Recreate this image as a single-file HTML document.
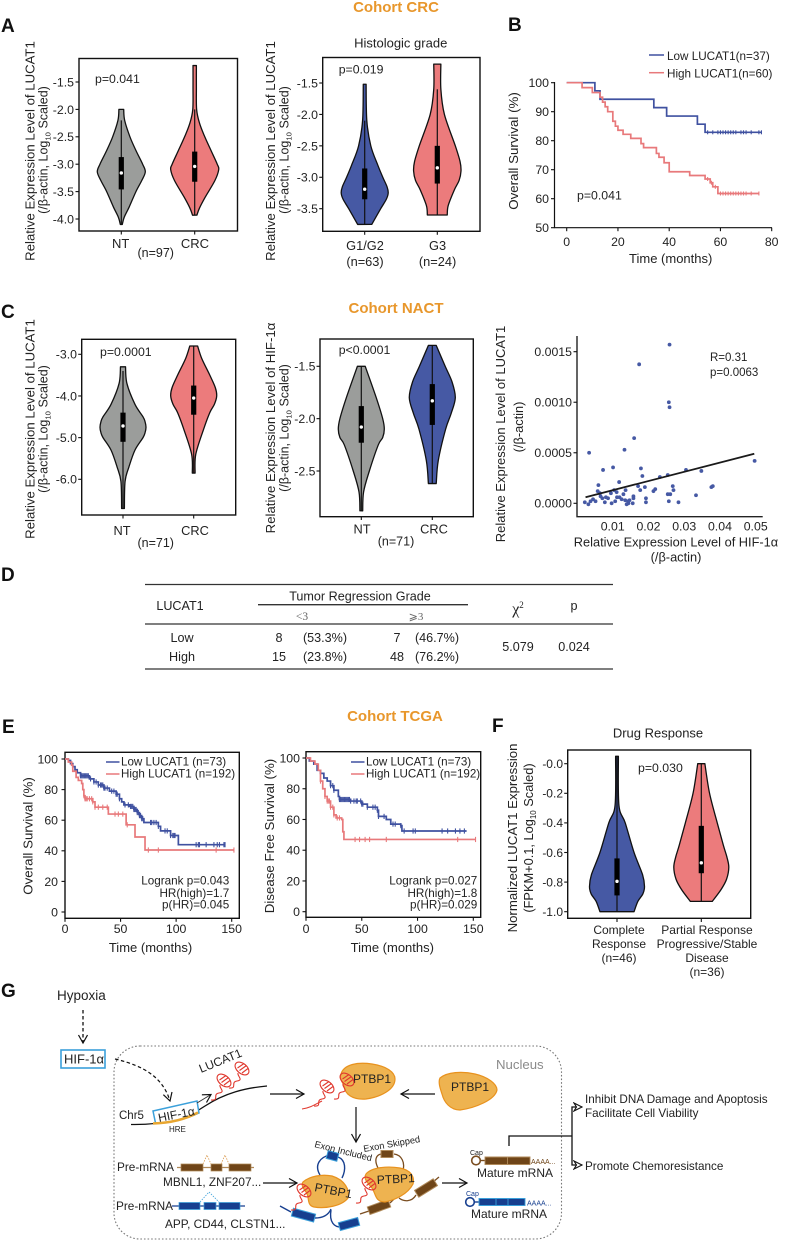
<!DOCTYPE html>
<html lang="en">
<head>
<meta charset="utf-8">
<title>LUCAT1 figure</title>
<style>
html,body{margin:0;padding:0;background:#fff;}
svg{display:block;font-family:"Liberation Sans",Arial,sans-serif;fill:#222;}
</style>
</head>
<body>
<svg id="fig" xmlns="http://www.w3.org/2000/svg" width="786" height="1241" viewBox="0 0 786 1241">
<defs>
<marker id="open" markerWidth="12" markerHeight="12" refX="9" refY="5" orient="auto" markerUnits="userSpaceOnUse"><path d="M1 1 L9 5 L1 9 L3.5 5 Z" fill="#fff" stroke="#111" stroke-width="1.1"/></marker>
<marker id="openV" markerWidth="12" markerHeight="12" refX="9" refY="5" orient="auto" markerUnits="userSpaceOnUse"><path d="M1 0.5 L9 5 L1 9.5" fill="none" stroke="#111" stroke-width="1.2"/></marker>
<g id="rna" fill="none" stroke="#e0382e" stroke-width="1.1">
<path d="M-11 13 C-2 14 -10 7 -3 6 C4 5 -3 1 -2 -2"/>
<ellipse cx="2" cy="-6.500" rx="8" ry="5" transform="rotate(40 2 -6.500)"/>
<path d="M-2.500 -7 L4 -11.500 M-0.500 -4.500 L6.500 -9.500 M2 -2 L8 -6.500"/>
</g>
</defs>

<g id="static" font-size="12.3">
<g font-weight="bold" fill="#111" font-size="19">
<text x="1" y="32">A</text>
<text x="508" y="31">B</text>
<text x="1" y="318">C</text>
<text x="1" y="581">D</text>
<text x="2" y="733">E</text>
<text x="492" y="732">F</text>
<text x="1" y="997">G</text>
</g>
<g font-weight="bold" fill="#e8972c" font-size="15" text-anchor="middle">
<text x="396" y="12">Cohort CRC</text>
<text x="396" y="313">Cohort NACT</text>
<text x="395" y="721">Cohort TCGA</text>
</g>

<g text-anchor="middle" font-size="12.6">
<path d="M145 584.500H613 M145 624H613 M145 669H613 M258 604.700H468" stroke="#333" stroke-width="1.3" fill="none"/>
<text x="360" y="600.500">Tumor Regression Grade</text>
<text x="180" y="610">LUCAT1</text>
<text x="302" y="620" font-family="'Liberation Serif',serif" fill="#666" font-size="11.5">&lt;3</text>
<text x="416" y="620" font-family="'Liberation Serif','DejaVu Sans',serif" fill="#666" font-size="11">⩾3</text>
<text x="518" y="614" font-family="'Liberation Serif',serif" font-size="16">χ<tspan font-size="9" dy="-6">2</tspan></text>
<text x="574" y="610">p</text>
<text x="182" y="642">Low</text>
<text x="182" y="661">High</text>
<text x="279" y="642">8</text>
<text x="325" y="642">(53.3%)</text>
<text x="397" y="642">7</text>
<text x="437" y="642">(46.7%)</text>
<text x="279" y="661">15</text>
<text x="325" y="661">(23.8%)</text>
<text x="397" y="661">48</text>
<text x="437" y="661">(76.2%)</text>
<text x="518" y="651">5.079</text>
<text x="574" y="651">0.024</text>
</g>
</g>

<g id="diagram" font-size="12">
<rect x="114" y="1046" width="447.500" height="193" rx="26" fill="none" stroke="#777" stroke-width="1.1" stroke-dasharray="1.6 2"/>
<text x="496" y="1069" font-size="13.2" fill="#8a8a8a">Nucleus</text>
<text x="57" y="1000" font-size="13.5">Hypoxia</text>
<path d="M83 1010V1043" stroke="#111" stroke-width="1.3" stroke-dasharray="3.5 2.5" fill="none" marker-end="url(#openV)"/>
<rect x="61" y="1050" width="44" height="18" fill="#fff" stroke="#3ba0da" stroke-width="1.6"/>
<text x="64" y="1063.500" font-size="13">HIF-1α</text>
<path d="M115 1059 C145 1066 163 1078 170 1101" stroke="#111" stroke-width="1.2" stroke-dasharray="3.5 2.5" fill="none" marker-end="url(#openV)"/>

<path d="M131 1124.500 C160 1125 185 1120 205 1106 C225 1093 245 1088 267 1086" stroke="#111" stroke-width="1.3" fill="none"/>
<text x="119" y="1119" font-size="11.5">Chr5</text>
<path d="M153 1111L197 1101L199 1113C186 1119 170 1123 155.500 1123Z" fill="#fff" stroke="#3ba0da" stroke-width="1.5"/>
<path d="M153 1123.500 C170 1123 186 1119 198 1112.500" stroke="#e8a630" stroke-width="2.600" fill="none"/>
<text transform="translate(159 1122) rotate(-11)" font-size="12">HIF-1α</text>
<text x="169" y="1132" font-size="8">HRE</text>
<path d="M197 1103L211 1094.500" stroke="#333" stroke-width="1" fill="none" marker-end="url(#openV)"/>
<text transform="translate(201 1073) rotate(-22)" font-size="12">LUCAT1</text>
<use href="#rna" x="222" y="1087"/>
<use href="#rna" x="240" y="1075"/>
<path d="M270 1094H304" stroke="#111" stroke-width="1.2" fill="none" marker-end="url(#openV)"/>
<path d="M341 1074C344 1064 358 1062 372 1064C386 1066 395 1072 395 1079C395 1090 380 1097 366 1099C352 1100 345 1094 344 1086C343 1082 339 1080 341 1074Z" fill="#eeb350" stroke="#e8921e" stroke-width="1.2"/>
<text x="353" y="1083" font-size="12">PTBP1</text>
<path d="M302 1109C310 1108 316 1104 322 1101" stroke="#e0382e" stroke-width="1" fill="none"/>
<use href="#rna" x="325" y="1093"/>
<use href="#rna" x="345" y="1086"/>
<path d="M440 1078C447 1072 462 1071 475 1074C488 1077 497 1084 497 1090C495 1100 475 1108 460 1110C450 1110 444 1102 442 1094C440 1088 438 1082 440 1078Z" fill="#eeb350" stroke="#e8921e" stroke-width="1.2"/>
<text x="451" y="1091" font-size="12">PTBP1</text>
<path d="M435 1094H401" stroke="#111" stroke-width="1.2" fill="none" marker-end="url(#openV)"/>
<path d="M356 1107V1142" stroke="#111" stroke-width="1.2" fill="none" marker-end="url(#openV)"/>

<text x="117" y="1171" font-size="11.8">Pre-mRNA</text>
<path d="M177 1167.500H254" stroke="#b08a5a" stroke-width="1.3"/>
<path d="M181 1164h22v7h-22z M211 1164h11v7h-11z M229 1164h22v7h-22z" fill="#6f4518" stroke="#b08a5a" stroke-width=".7"/>
<path d="M203 1164L207 1155L211 1164 M221 1164L225 1155L229 1164" fill="none" stroke="#d99a50" stroke-width=".8" stroke-dasharray="1.5 1.2"/>
<text x="163" y="1186" font-size="11.8">MBNL1, ZNF207...</text>
<path d="M263 1183H297" stroke="#111" stroke-width="1.2" fill="none" marker-end="url(#openV)"/>
<text x="116" y="1210" font-size="11.8">Pre-mRNA</text>
<path d="M172 1206H245" stroke="#173f8f" stroke-width="1.3"/>
<path d="M179 1202.500h21v7h-21z M204 1202.500h12v7h-12z M219 1202.500h21v7h-21z" fill="#173f8f" stroke="#3ba0da" stroke-width=".7"/>
<path d="M200 1202L209 1192L219 1202" fill="none" stroke="#3ba0da" stroke-width=".8" stroke-dasharray="1.5 1.2"/>
<text x="165" y="1228" font-size="11.8">APP, CD44, CLSTN1...</text>

<path d="M320 1175C314 1165 320 1157 330 1155 M338 1157C346 1160 346 1170 342 1178 M280 1206L291 1212 M315 1218C322 1218 328 1216 331 1209 M331 1210C329 1222 334 1228 343 1227" fill="none" stroke="#173f8f" stroke-width="1.4"/>
<g fill="#173f8f" stroke="#3ba0da" stroke-width="1">
<rect x="327" y="1152" width="11" height="8" transform="rotate(15 332.700 1156)"/>
<rect x="292" y="1211" width="23" height="8" transform="rotate(15 303 1215)"/>
<rect x="339" y="1220" width="20" height="8" transform="rotate(-15 349 1224)"/>
</g>
<path d="M303 1182C310 1176 322 1174 332 1176C345 1180 350 1190 348 1198C342 1206 325 1209 314 1207C306 1205 310 1197 306 1192C303 1188 301 1185 303 1182Z" fill="#eeb350" stroke="#e8921e" stroke-width="1.2"/>
<text transform="translate(314 1191) rotate(11)" font-size="12">PTBP1</text>
<use href="#rna" x="302" y="1197"/>
<text transform="translate(314 1147) rotate(14)" font-size="9.3">Exon Included</text>

<path d="M378 1168C374 1160 376 1155 381 1154 M394 1154C402 1155 405 1163 403 1170 M360 1214L369 1211 M390 1203L397 1196 M399 1198C404 1202 412 1202 416 1195 M433 1182L439 1177" fill="none" stroke="#7a4d20" stroke-width="1.3"/>
<g fill="#6f4518" stroke="#b08a5a" stroke-width="1">
<rect x="381" y="1150.500" width="12" height="7"/>
<rect x="415" y="1184" width="22" height="8" transform="rotate(-32 426 1188)"/>
<rect x="368" y="1203" width="22" height="8" transform="rotate(-20 379 1207)"/>
</g>
<path d="M366 1174C372 1167 388 1166 400 1168C410 1170 415 1176 413 1184C408 1194 395 1200 385 1202C375 1202 376 1194 372 1188C368 1183 363 1179 366 1174Z" fill="#eeb350" stroke="#e8921e" stroke-width="1.2"/>
<text transform="translate(377 1184) rotate(-3)" font-size="12">PTBP1</text>
<use href="#rna" x="367" y="1190"/>
<text transform="translate(364 1152) rotate(-10)" font-size="9.3">Exon Skipped</text>
<path d="M442 1183H467" stroke="#111" stroke-width="1.2" fill="none" marker-end="url(#openV)"/>

<text x="470" y="1155" font-size="7">Cap</text>
<circle cx="476" cy="1160.500" r="4.300" fill="#fff" stroke="#7a4d20" stroke-width="1.6"/>
<path d="M480 1160.500H485" stroke="#7a4d20" stroke-width="1.4"/>
<path d="M485 1157h22.500v7.500h-22.500z M507.500 1157h22.500v7.500h-22.500z" fill="#6f4518" stroke="#b08a5a" stroke-width=".9"/>
<text x="531" y="1164" font-size="7" fill="#6f4518">AAAA...</text>
<text x="477" y="1177" font-size="12">Mature mRNA</text>
<text x="466" y="1196" font-size="7" fill="#173f8f">Cap</text>
<circle cx="470" cy="1202" r="4.300" fill="#fff" stroke="#173f8f" stroke-width="1.6"/>
<path d="M474 1202H479" stroke="#173f8f" stroke-width="1.4"/>
<path d="M479 1198.500h17v7h-17z M496 1198.500h12v7h-12z M508 1198.500h17v7h-17z" fill="#173f8f" stroke="#3ba0da" stroke-width=".9"/>
<text x="527" y="1205.500" font-size="7" fill="#173f8f">AAAA...</text>
<text x="471" y="1218" font-size="12">Mature mRNA</text>

<path d="M509 1146V1136H572" stroke="#111" stroke-width="1.3" fill="none"/>
<path d="M572 1136V1107H582" stroke="#111" stroke-width="1.3" fill="none" marker-end="url(#open)"/>
<path d="M572 1136V1165H582" stroke="#111" stroke-width="1.3" fill="none" marker-end="url(#open)"/>
<text x="585" y="1103" font-size="11.7">Inhibit DNA Damage and Apoptosis</text>
<text x="585" y="1117" font-size="11.7">Facilitate Cell Viability</text>
<text x="585" y="1170" font-size="11.7">Promote Chemoresistance</text>
</g>
</svg>

<script>
/* ---------- panel A, left: NT vs CRC ---------- */
const a1Categories = ['NT', 'CRC'];
const a1Ticks = [-1.5, -2.0, -2.5, -3.0, -3.5, -4.0];
const a1NtValues = [-2.0, -2.2, -2.5, -2.75, -3.0, -3.14, -3.3, -3.5, -3.78, -3.97, -4.1];
const a1NtDensity = [0.1, 0.14, 0.36, 0.61, 0.89, 1, 0.85, 0.61, 0.33, 0.12, 0.04];
const a1CrcValues = [-1.2, -1.6, -2.0, -2.25, -2.5, -2.75, -3.0, -3.1, -3.3, -3.6, -3.8, -3.93];
const a1CrcDensity = [0.07, 0.07, 0.08, 0.2, 0.42, 0.68, 0.94, 1, 0.84, 0.44, 0.2, 0.09];
const a1NtBox = [-3.46, -3.16, -2.87];
const a1CrcBox = [-3.32, -3.04, -2.77];
const a1NtWhisker = [-4.1, -2.2];
const a1CrcWhisker = [-3.93, -2.0];

/* ---------- panel A, right: histologic grade ---------- */
const a2Categories = ['G1/G2', 'G3'];
const a2Ticks = [-1.5, -2.0, -2.5, -3.0, -3.5];
const a2LowValues = [-1.52, -2.1, -2.5, -2.8, -3.0, -3.15, -3.25, -3.35, -3.5, -3.75];
const a2LowDensity = [0.06, 0.09, 0.26, 0.55, 0.77, 0.95, 1, 0.92, 0.68, 0.3];
const a2HighValues = [-1.2, -1.6, -2.0, -2.5, -2.75, -2.9, -3.05, -3.2, -3.45, -3.6];
const a2HighDensity = [0.15, 0.15, 0.3, 0.76, 0.96, 1, 0.92, 0.72, 0.46, 0.42];
const a2LowBox = [-3.35, -3.19, -2.86];
const a2HighBox = [-3.1, -2.85, -2.5];
const a2LowWhisker = [-3.75, -2.1];
const a2HighWhisker = [-3.6, -1.6];

/* ---------- panel B: survival ---------- */
const bTicksX = [0, 20, 40, 60, 80];
const bTicksY = [50, 60, 70, 80, 90, 100];
const bLowTimes = [0, 11, 13, 34, 39, 51, 54, 76];
const bLowSurvival = [100, 97.2, 94.3, 91.4, 88.5, 85.7, 82.9, 82.9];
const bHighTimes = [0, 6, 10, 13, 14, 15, 16, 18, 19, 20, 22, 25, 29, 30, 35, 36, 38, 40, 48, 54, 56, 57, 59, 75];
const bHighSurvival = [100, 98.3, 96.6, 95, 93.3, 91.7, 90, 86.7, 85, 83.6, 82.2, 80.8, 79, 77.6, 75.6, 74.3, 72.4, 69.3, 68, 66.8, 65.5, 64.1, 61.8, 61.8];
const bLowCensor = [55, 57, 59, 60, 61, 62, 63, 64, 65, 66, 68, 69, 70, 72, 75, 76];
const bHighCensor = [55, 56.5, 58, 60, 61, 62, 63, 64, 65, 66, 67, 68, 69, 70, 72, 75];

/* ---------- panel C, left: LUCAT1 ---------- */
const c1Categories = ['NT', 'CRC'];
const c1Ticks = [-3.0, -4.0, -5.0, -6.0];
const c1NtValues = [-3.3, -3.7, -4.2, -4.5, -4.62, -4.75, -4.88, -5.0, -5.3, -5.7, -6.05, -6.7];
const c1NtDensity = [0.11, 0.17, 0.52, 0.87, 0.96, 1, 0.96, 0.87, 0.52, 0.26, 0.09, 0.06];
const c1CrcValues = [-2.8, -3.1, -3.5, -3.8, -4.0, -4.2, -4.4, -4.8, -5.4, -5.85];
const c1CrcDensity = [0.17, 0.35, 0.7, 0.94, 1, 0.9, 0.7, 0.43, 0.09, 0.06];
const c1NtBox = [-5.1, -4.72, -4.4];
const c1CrcBox = [-4.45, -4.05, -3.75];
const c1NtWhisker = [-6.7, -3.4];
const c1CrcWhisker = [-5.85, -2.8];

/* ---------- panel C, middle: HIF-1a ---------- */
const c2Categories = ['NT', 'CRC'];
const c2Ticks = [-1.5, -2.0, -2.5];
const c2NtValues = [-1.5, -1.8, -2.0, -2.1, -2.18, -2.25, -2.5, -2.7, -2.88];
const c2NtDensity = [0.17, 0.65, 0.93, 1, 0.93, 0.74, 0.35, 0.1, 0.06];
const c2CrcValues = [-1.3, -1.5, -1.65, -1.8, -1.95, -2.1, -2.4, -2.62];
const c2CrcDensity = [0.17, 0.56, 0.86, 1, 0.82, 0.58, 0.26, 0.17];
const c2NtBox = [-2.23, -2.08, -1.88];
const c2CrcBox = [-2.06, -1.83, -1.67];
const c2NtWhisker = [-2.88, -1.5];
const c2CrcWhisker = [-2.62, -1.3];

/* ---------- panel C, right: scatter ---------- */
const scTicksX = [0.01, 0.02, 0.03, 0.04, 0.05];
const scTicksY = [0, 0.0005, 0.001, 0.0015];
const scHif = [.0259,.0174,.0257,.0259,.016,.0133,.0034,.0101,.0073,.0179,.0183,.0118,.0232,.0254,.0305,.0348,.0497,.006,.0171,.019,.0268,.027,.0219,.0214,.0376,.038,.0333,.0254,.0261,.0257,.0284,.0193,.0193,.0177,.0158,.0158,.0136,.013,.0156,.0144,.0139,.0143,.0147,.0135,.0125,.0119,.0111,.0104,.0095,.0087,.0107,.0097,.0078,.0081,.0071,.0064,.0058,.0052,.0045,.0038,.0032,.0022,.0066,.0112];
const scLucat = [.00157,.001375,.0010,.00095,.000645,.00053,.0005,.000355,.00033,.000345,.00027,.00021,.00026,.00028,.00033,.00032,.00042,.00018,.00017,.00016,.00017,.00013,.00014,.00012,.00016,.00017,.00008,.00009,.00009,.00002,.00001,.00005,.00001,.00013,.00007,.00005,.00013,.00009,0,0,-.00001,.00002,.00003,.00003,.00004,.00006,.00011,.00013,.0001,.00005,.00002,0,.00001,.00006,.00005,.0001,.00012,.00002,.00004,.00002,-.00001,.00001,.00007,.00006];
const scTrendX = [0.0024, 0.0496];
const scTrendY = [0.00006, 0.00049];

/* ---------- panel E, overall survival ---------- */
const eTicksX = [0, 50, 100, 150];
const eTicksY = [0, 20, 40, 60, 80, 100];
const e1LowTimes = [0, 3, 5, 7, 9, 11, 14, 22, 26, 30, 35, 40, 46, 49, 51, 53, 58, 62, 65, 67, 69, 71, 84, 86, 95, 102, 144];
const e1LowSurvival = [100, 99, 97, 95, 93, 91, 89, 87, 85, 83, 81, 79, 77, 74, 72, 70, 69, 67, 65, 63, 61, 58.5, 56, 53, 50, 44, 44];
const e1HighTimes = [0, 3, 6, 7, 10, 12, 15, 16, 17, 18, 25, 27, 39, 55, 63, 72, 152];
const e1HighSurvival = [100, 98, 96, 92, 88, 86, 84, 80, 76, 74, 72, 68.5, 64, 57, 49, 40.5, 40.5];
const e1LowCensor = [14, 15, 16, 17, 18, 19, 20, 21, 23, 26, 28, 30, 32, 33, 34, 35, 36, 38, 42, 44, 46, 47, 49, 54, 57, 59, 60, 61, 62, 63, 64, 65, 66, 67, 68, 69, 70, 77, 78, 80, 82, 84, 90, 92, 95, 97, 98, 99, 118, 120, 121, 127, 134, 137, 139, 143, 144];
const e1HighCensor = [17, 18, 19, 20, 22, 24, 25, 27, 30, 34, 38, 45, 48, 52, 56, 75, 84, 136, 152];

/* ---------- panel E, disease free survival ---------- */
const e2LowTimes = [0, 3, 7, 10, 13, 16, 19, 22, 25, 29, 30, 40, 50, 55, 64, 65, 72, 76, 85, 86, 144];
const e2LowSurvival = [100, 98, 96, 92, 90, 87, 85, 82, 79, 75, 73, 72, 70, 68, 66, 62, 60, 57, 56, 52.5, 52.5];
const e2HighTimes = [0, 4, 8, 11, 13, 15, 17, 19, 22, 25, 27, 32, 33, 34, 152];
const e2HighSurvival = [100, 98, 96, 92, 85, 80, 75, 72, 68, 63, 61, 60, 52, 47, 47];
const e2LowCensor = [22, 24, 25, 30, 31, 32, 33, 34, 35, 36, 37, 38, 39, 40, 43, 45, 46, 49, 50, 51, 55, 60, 62, 64, 65, 70, 78, 80, 85, 88, 96, 98, 122, 127, 134, 138, 142];
const e2HighCensor = [13, 17, 19, 20, 21, 22, 24, 25, 28, 30, 44, 48, 53, 57, 72, 136, 152];

/* ---------- panel F: drug response ---------- */
const fTicks = [0, -0.2, -0.4, -0.6, -0.8, -1.0];
const fCompleteValues = [0.05, -0.28, -0.4, -0.6, -0.75, -0.83, -0.88, -0.93, -1.0];
const fCompleteDensity = [0.05, 0.07, 0.3, 0.62, 0.93, 1, 0.94, 0.76, 0.62];
const fPartialValues = [0, -0.2, -0.4, -0.55, -0.63, -0.7, -0.78, -0.85, -0.93];
const fPartialDensity = [0.13, 0.3, 0.58, 0.8, 0.93, 1, 0.92, 0.72, 0.4];
const fCompleteBox = [-0.89, -0.795, -0.64];
const fPartialBox = [-0.74, -0.67, -0.42];
const fCompleteWhisker = [-1.0, 0.05];
const fPartialWhisker = [-0.93, 0];

const COLORS = { gray: '#9b9d9b', red: '#ec7b7c', blue: '#4659a4', kmLow: '#3f51a0', kmHigh: '#e8797b' };
const NS = 'http://www.w3.org/2000/svg';
const fig = document.getElementById('fig');

function mk(tag, attrs, name, parent) {
  const el = document.createElementNS(NS, tag);
  for (const k in attrs) el.setAttribute(k, attrs[k]);
  
  
  (parent || fig).appendChild(el);
  return el;
}
function label(x, y, str, size, anchor, name, parent) {
  const el = mk('text', { x: x, y: y, 'font-size': size, 'text-anchor': anchor || 'start' }, name, parent);
  el.textContent = str;
  return el;
}
function vlabel(x, cy, parts, size, name, parent) {
  const el = mk('text', { 'font-size': size, 'text-anchor': 'middle', transform: 'translate(' + x + ' ' + cy + ') rotate(-90)' }, name, parent);
  parts.forEach(function (p) {
    const t = document.createElementNS(NS, 'tspan');
    if (p.sub) { t.setAttribute('font-size', size * 0.62); t.setAttribute('dy', 3); }
    if (p.after) { t.setAttribute('dy', -3); }
    t.textContent = p.text;
    el.appendChild(t);
  });
  return el;
}
function linear(d0, p0, d1, p1) {
  return function (v) { return p0 + (v - d0) * (p1 - p0) / (d1 - d0); };
}
function fmt(v) { return v.toFixed(1); }

function violinPath(cx, y, values, density, maxHalf) {
  const pts = values.map(function (v, i) { return [density[i] * maxHalf, y(v)]; });
  function spline(P) {
    let d = '';
    for (let i = 0; i < P.length - 1; i++) {
      const p0 = P[Math.max(i - 1, 0)], p1 = P[i], p2 = P[i + 1], p3 = P[Math.min(i + 2, P.length - 1)];
      const c1 = [p1[0] + (p2[0] - p0[0]) / 6, p1[1] + (p2[1] - p0[1]) / 6];
      const c2 = [p2[0] - (p3[0] - p1[0]) / 6, p2[1] - (p3[1] - p1[1]) / 6];
      d += 'C' + c1[0].toFixed(2) + ' ' + c1[1].toFixed(2) + ' ' + c2[0].toFixed(2) + ' ' + c2[1].toFixed(2) + ' ' + p2[0].toFixed(2) + ' ' + p2[1].toFixed(2);
    }
    return d;
  }
  const right = pts.map(function (p) { return [cx + p[0], p[1]]; });
  const left = pts.slice().reverse().map(function (p) { return [cx - p[0], p[1]]; });
  return 'M' + right[0][0] + ' ' + right[0][1] + spline(right) + 'L' + left[0][0] + ' ' + left[0][1] + spline(left) + 'Z';
}

function violin(group, key, cx, y, values, density, box, whisker, color, maxHalf) {
  mk('path', { d: violinPath(cx, y, values, density, maxHalf), fill: color, stroke: '#111', 'stroke-width': 1.3, 'stroke-linejoin': 'round' }, key + '-violin', group);
  mk('line', { x1: cx, x2: cx, y1: y(whisker[0]), y2: y(whisker[1]), stroke: '#111', 'stroke-width': 1.2 }, key + '-whisker', group);
  mk('rect', { x: cx - 2.6, width: 5.2, y: y(box[2]), height: y(box[0]) - y(box[2]), fill: '#000' }, key + '-box', group);
  mk('circle', { cx: cx, cy: y(box[1]), r: 1.7, fill: '#fff' }, key + '-median', group);
}

function frame(group, x0, y0, x1, y1, name) {
  mk('rect', { x: x0, y: y0, width: x1 - x0, height: y1 - y0, fill: '#fff', stroke: '#111', 'stroke-width': 1.4 }, name, group);
}
function yTicks(group, ticks, y, axisX, labelX, format, size) {
  ticks.forEach(function (t) {
    const line = mk('line', { x1: axisX - 3.5, x2: axisX, y1: y(t), y2: y(t), stroke: '#111', 'stroke-width': 1.1 }, 'y-tick', group);
    label(labelX, y(t) + size * 0.36, format(t), size, 'end', 'y-tick-label', group);
    line.setAttribute('data-value', t);
  });
}
function xTicks(group, ticks, x, axisY, labelY, format, size) {
  ticks.forEach(function (t) {
    mk('line', { x1: x(t), x2: x(t), y1: axisY, y2: axisY + 3.5, stroke: '#111', 'stroke-width': 1.1 }, 'x-tick', group);
    label(x(t), labelY, format(t), size, 'middle', 'x-tick-label', group);
  });
}
function stepPath(times, surv, x, y) {
  let d = 'M' + x(times[0]) + ' ' + y(surv[0]);
  for (let i = 1; i < times.length; i++) d += 'H' + x(times[i]).toFixed(2) + 'V' + y(surv[i]).toFixed(2);
  return d;
}
function stepValue(times, surv, t) {
  let v = surv[0];
  for (let i = 0; i < times.length; i++) if (times[i] <= t) v = surv[i];
  return v;
}
function kmSeries(group, key, times, surv, censor, x, y, color, tickH) {
  mk('path', { d: stepPath(times, surv, x, y), fill: 'none', stroke: color, 'stroke-width': 1.7 }, key + '-curve', group);
  censor.forEach(function (t) {
    const yy = y(stepValue(times, surv, t));
    mk('line', { x1: x(t), x2: x(t), y1: yy - tickH, y2: yy + tickH, stroke: color, 'stroke-width': 1.1 }, key + '-censor-tick', group);
  });
}

/* A1 */
(function () {
  const g = mk('g', {}, 'violin-chart-cohort-crc', fig);
  const y = linear(-1.5, 82, -4.0, 219);
  frame(g, 79, 58.5, 237.5, 231, 'plot-frame');
  yTicks(g, a1Ticks, y, 79, 74, fmt, 12.3);
  violin(g, 'nt', 121.3, y, a1NtValues, a1NtDensity, a1NtBox, a1NtWhisker, COLORS.gray, 24);
  violin(g, 'crc', 194.7, y, a1CrcValues, a1CrcDensity, a1CrcBox, a1CrcWhisker, COLORS.red, 24);
  [121.3, 194.7].forEach(function (cx) { mk('line', { x1: cx, x2: cx, y1: 231, y2: 234.5, stroke: '#111', 'stroke-width': 1.1 }, 'x-tick', g); });
  label(120.7, 248, a1Categories[0], 13, 'middle', 'x-label-nt', g);
  label(195, 248, a1Categories[1], 13, 'middle', 'x-label-crc', g);
  label(155.7, 257, '(n=97)', 12.5, 'middle', 'sample-size', g);
  label(95, 83, 'p=0.041', 12.3, 'start', 'p-value', g);
  vlabel(34.5, 151, [{ text: 'Relative Expression Level of LUCAT1' }], 13.2, 'y-axis-title', g);
  vlabel(47.5, 150, [{ text: '(/β-actin, Log' }, { text: '10', sub: true }, { text: ' Scaled)', after: true }], 12.5, 'y-axis-subtitle', g);
})();

/* A2 */
(function () {
  const g = mk('g', {}, 'violin-chart-histologic-grade', fig);
  const y = linear(-1.5, 83, -3.5, 208.7);
  frame(g, 322.7, 57.5, 480, 231.3, 'plot-frame');
  yTicks(g, a2Ticks, y, 322.7, 318, fmt, 12.3);
  violin(g, 'g1-g2', 364.7, y, a2LowValues, a2LowDensity, a2LowBox, a2LowWhisker, COLORS.blue, 23.5);
  violin(g, 'g3', 437.3, y, a2HighValues, a2HighDensity, a2HighBox, a2HighWhisker, COLORS.red, 23.7);
  [364.7, 437.3].forEach(function (cx) { mk('line', { x1: cx, x2: cx, y1: 231.3, y2: 234.8, stroke: '#111', 'stroke-width': 1.1 }, 'x-tick', g); });
  label(365, 250, a2Categories[0], 12.8, 'middle', 'x-label-g1-g2', g);
  label(437.6, 250, a2Categories[1], 12.8, 'middle', 'x-label-g3', g);
  label(365, 266, '(n=63)', 12.8, 'middle', 'sample-size-g1-g2', g);
  label(437.6, 266, '(n=24)', 12.8, 'middle', 'sample-size-g3', g);
  label(400.7, 47.5, 'Histologic grade', 13, 'middle', 'chart-title', g);
  label(338.7, 73.5, 'p=0.019', 12.3, 'start', 'p-value', g);
  vlabel(275, 151, [{ text: 'Relative Expression Level of LUCAT1' }], 13.2, 'y-axis-title', g);
  vlabel(288.5, 150, [{ text: '(/β-actin, Log' }, { text: '10', sub: true }, { text: ' Scaled)', after: true }], 12.5, 'y-axis-subtitle', g);
})();

/* B */
(function () {
  const g = mk('g', {}, 'survival-chart-cohort-crc', fig);
  const x = linear(0, 566.7, 80, 771.7);
  const y = linear(100, 82.7, 50, 227.7);
  mk('path', { d: 'M554.5 82V227.7H772', fill: 'none', stroke: '#111', 'stroke-width': 1.2 }, 'axes', g);
  yTicks(g, bTicksY, y, 554.5, 549, String, 12.3);
  xTicks(g, bTicksX, x, 227.7, 246, String, 12.3);
  kmSeries(g, 'low-lucat1', bLowTimes, bLowSurvival, bLowCensor, x, y, COLORS.kmLow, 2);
  kmSeries(g, 'high-lucat1', bHighTimes, bHighSurvival, bHighCensor, x, y, COLORS.kmHigh, 2);
  mk('line', { x1: 649, x2: 664, y1: 55, y2: 55, stroke: COLORS.kmLow, 'stroke-width': 1.5 }, 'legend-line-low', g);
  mk('line', { x1: 649, x2: 664, y1: 72.7, y2: 72.7, stroke: COLORS.kmHigh, 'stroke-width': 1.5 }, 'legend-line-high', g);
  label(667, 60, 'Low LUCAT1(n=37)', 11.7, 'start', 'legend-entry-low', g);
  label(667, 77.5, 'High LUCAT1(n=60)', 11.7, 'start', 'legend-entry-high', g);
  label(577, 199.5, 'p=0.041', 12.3, 'start', 'p-value', g);
  label(670.7, 263, 'Time (months)', 13, 'middle', 'x-axis-title', g);
  vlabel(518, 151, [{ text: 'Overall Survival (%)' }], 13.3, 'y-axis-title', g);
})();

/* C1 */
(function () {
  const g = mk('g', {}, 'violin-chart-nact-lucat1', fig);
  const y = linear(-3.0, 354.3, -6.0, 479.3);
  frame(g, 81.7, 339.3, 235.7, 515, 'plot-frame');
  yTicks(g, c1Ticks, y, 81.7, 77, fmt, 12.3);
  violin(g, 'nt', 123, y, c1NtValues, c1NtDensity, c1NtBox, c1NtWhisker, COLORS.gray, 23);
  violin(g, 'crc', 193.7, y, c1CrcValues, c1CrcDensity, c1CrcBox, c1CrcWhisker, COLORS.red, 23);
  [123, 193.7].forEach(function (cx) { mk('line', { x1: cx, x2: cx, y1: 515, y2: 518.5, stroke: '#111', 'stroke-width': 1.1 }, 'x-tick', g); });
  label(122, 535, c1Categories[0], 12.8, 'middle', 'x-label-nt', g);
  label(195, 535, c1Categories[1], 12.8, 'middle', 'x-label-crc', g);
  label(155.7, 547, '(n=71)', 12.5, 'middle', 'sample-size', g);
  label(100, 356, 'p=0.0001', 12.3, 'start', 'p-value', g);
  vlabel(34.5, 429, [{ text: 'Relative Expression Level of LUCAT1' }], 13.2, 'y-axis-title', g);
  vlabel(47.5, 429, [{ text: '(/β-actin, Log' }, { text: '10', sub: true }, { text: ' Scaled)', after: true }], 12.5, 'y-axis-subtitle', g);
})();

/* C2 */
(function () {
  const g = mk('g', {}, 'violin-chart-nact-hif1a', fig);
  const y = linear(-1.5, 366.3, -2.5, 471);
  frame(g, 320, 339, 473.3, 516.7, 'plot-frame');
  yTicks(g, c2Ticks, y, 320, 315.5, fmt, 12.3);
  violin(g, 'nt', 361.3, y, c2NtValues, c2NtDensity, c2NtBox, c2NtWhisker, COLORS.gray, 23);
  violin(g, 'crc', 432.3, y, c2CrcValues, c2CrcDensity, c2CrcBox, c2CrcWhisker, COLORS.blue, 23);
  [361.3, 432.3].forEach(function (cx) { mk('line', { x1: cx, x2: cx, y1: 516.7, y2: 520, stroke: '#111', 'stroke-width': 1.1 }, 'x-tick', g); });
  label(362, 533.5, c2Categories[0], 12.8, 'middle', 'x-label-nt', g);
  label(434, 533.5, c2Categories[1], 12.8, 'middle', 'x-label-crc', g);
  label(396, 545.5, '(n=71)', 12.5, 'middle', 'sample-size', g);
  label(338.7, 354, 'p<0.0001', 12.3, 'start', 'p-value', g);
  vlabel(275, 428, [{ text: 'Relative Expression Level of HIF-1α' }], 13.2, 'y-axis-title', g);
  vlabel(288.5, 428, [{ text: '(/β-actin, Log' }, { text: '10', sub: true }, { text: ' Scaled)', after: true }], 12.5, 'y-axis-subtitle', g);
})();

/* Scatter */
(function () {
  const g = mk('g', {}, 'scatter-chart-lucat1-hif1a', fig);
  const x = linear(0.01, 612.7, 0.05, 755.7);
  const y = linear(0, 503.3, 0.0015, 351.7);
  mk('path', { d: 'M577 336V516.7H762.7', fill: 'none', stroke: '#222', 'stroke-width': 1.4 }, 'axes', g);
  scHif.forEach(function (v, i) {
    mk('circle', { cx: x(v), cy: y(scLucat[i]), r: 1.9, fill: '#4659a4' }, 'scatter-point', g);
  });
  mk('line', { x1: x(scTrendX[0]), x2: x(scTrendX[1]), y1: y(scTrendY[0]), y2: y(scTrendY[1]), stroke: '#1a1a1a', 'stroke-width': 1.8 }, 'trend-line', g);
  yTicks(g, scTicksY, y, 577, 572, function (t) { return t.toFixed(4); }, 12.3);
  scTicksX.forEach(function (t) { label(x(t), 530.7, t.toFixed(2), 12.3, 'middle', 'x-tick-label', g); });
  label(710, 361, 'R=0.31', 11.5, 'start', 'correlation-r', g);
  label(710, 376, 'p=0.0063', 11.5, 'start', 'correlation-p', g);
  label(676, 546.7, 'Relative Expression Level of HIF-1α', 12.8, 'middle', 'x-axis-title', g);
  label(676, 561.7, '(/β-actin)', 12.8, 'middle', 'x-axis-subtitle', g);
  vlabel(505, 434, [{ text: 'Relative Expression Level of LUCAT1' }], 13, 'y-axis-title', g);
  vlabel(523, 427, [{ text: '(/β-actin)' }], 12.8, 'y-axis-subtitle', g);
})();

/* E charts */
function kmPanel(name, xs, ys, box, labelRight, lowT, lowS, lowC, highT, highS, highC, legendX, stats, statX, title, titleX, timeX) {
  const g = mk('g', {}, name, fig);
  const x = linear(0, xs[0], 150, xs[1]);
  const y = linear(100, ys[0], 0, ys[1]);
  frame(g, box[0], box[1], box[2], box[3], 'plot-frame');
  yTicks(g, eTicksY, y, box[0], labelRight, String, 12.3);
  xTicks(g, eTicksX, x, box[3], 933, String, 12.3);
  kmSeries(g, 'low-lucat1', lowT, lowS, lowC, x, y, COLORS.kmLow, 2.6);
  kmSeries(g, 'high-lucat1', highT, highS, highC, x, y, COLORS.kmHigh, 2.6);
  mk('line', { x1: legendX, x2: legendX + 13.5, y1: 762, y2: 762, stroke: COLORS.kmLow, 'stroke-width': 1.5 }, 'legend-line-low', g);
  mk('line', { x1: legendX, x2: legendX + 13.5, y1: 774, y2: 774, stroke: COLORS.kmHigh, 'stroke-width': 1.5 }, 'legend-line-high', g);
  label(legendX + 15, 765.5, 'Low LUCAT1 (n=73)', 11.6, 'start', 'legend-entry-low', g);
  label(legendX + 15, 777.5, 'High LUCAT1 (n=192)', 11.6, 'start', 'legend-entry-high', g);
  label(statX, 884.5, stats[0], 11.7, 'end', 'logrank-p', g);
  label(statX, 897, stats[1], 11.7, 'end', 'hazard-ratio', g);
  label(statX, 908.5, stats[2], 11.7, 'end', 'hazard-ratio-p', g);
  label(timeX, 952, 'Time (months)', 13, 'middle', 'x-axis-title', g);
  vlabel(titleX, 836, [{ text: title }], 13.3, 'y-axis-title', g);
}
kmPanel('survival-chart-tcga-os', [65, 231.7], [759, 912], [65, 752.3, 239.3, 918.3], 58, e1LowTimes, e1LowSurvival, e1LowCensor, e1HighTimes, e1HighSurvival, e1HighCensor, 106, ['Logrank p=0.043', 'HR(high)=1.7', 'p(HR)=0.045'], 229.3, 'Overall Survival (%)', 32.5, 150.5);
kmPanel('survival-chart-tcga-dfs', [306, 473.3], [758, 911.7], [306, 751.7, 480.7, 917.3], 300, e2LowTimes, e2LowSurvival, e2LowCensor, e2HighTimes, e2HighSurvival, e2HighCensor, 351, ['Logrank p=0.027', 'HR(high)=1.8', 'p(HR)=0.029'], 477.3, 'Disease Free Survival (%)', 274, 392.3);

/* F */
(function () {
  const g = mk('g', {}, 'violin-chart-drug-response', fig);
  const y = linear(0, 763.7, -1.0, 911.7);
  frame(g, 567.7, 750, 750.7, 918.3, 'plot-frame');
  function fmtNeg(t) { return '-' + Math.abs(t).toFixed(1); }
  yTicks(g, fTicks, y, 567.7, 563, fmtNeg, 12);
  violin(g, 'complete-response', 617, y, fCompleteValues, fCompleteDensity, fCompleteBox, fCompleteWhisker, COLORS.blue, 27.5);
  violin(g, 'partial-response', 701.3, y, fPartialValues, fPartialDensity, fPartialBox, fPartialWhisker, COLORS.red, 27.5);
  [617, 701.3].forEach(function (cx) { mk('line', { x1: cx, x2: cx, y1: 918.3, y2: 922, stroke: '#111', 'stroke-width': 1.1 }, 'x-tick', g); });
  label(619, 934, 'Complete', 12, 'middle', 'x-label-complete', g);
  label(619, 948, 'Response', 12, 'middle', 'x-label-response', g);
  label(619, 962, '(n=46)', 12, 'middle', 'sample-size-complete', g);
  label(707, 934, 'Partial Response', 12, 'middle', 'x-label-partial', g);
  label(707, 948, 'Progressive/Stable', 12, 'middle', 'x-label-progressive', g);
  label(707, 962, 'Disease', 12, 'middle', 'x-label-disease', g);
  label(707, 976, '(n=36)', 12, 'middle', 'sample-size-partial', g);
  label(658, 737.7, 'Drug Response', 13, 'middle', 'chart-title', g);
  label(638, 772, 'p=0.030', 12.3, 'start', 'p-value', g);
  vlabel(517, 838, [{ text: 'Normalized LUCAT1 Expression' }], 13.2, 'y-axis-title', g);
  vlabel(533, 838, [{ text: '(FPKM+0.1, Log' }, { text: '10', sub: true }, { text: ' Scaled)', after: true }], 12.8, 'y-axis-subtitle', g);
})();
</script>
</body>
</html>
